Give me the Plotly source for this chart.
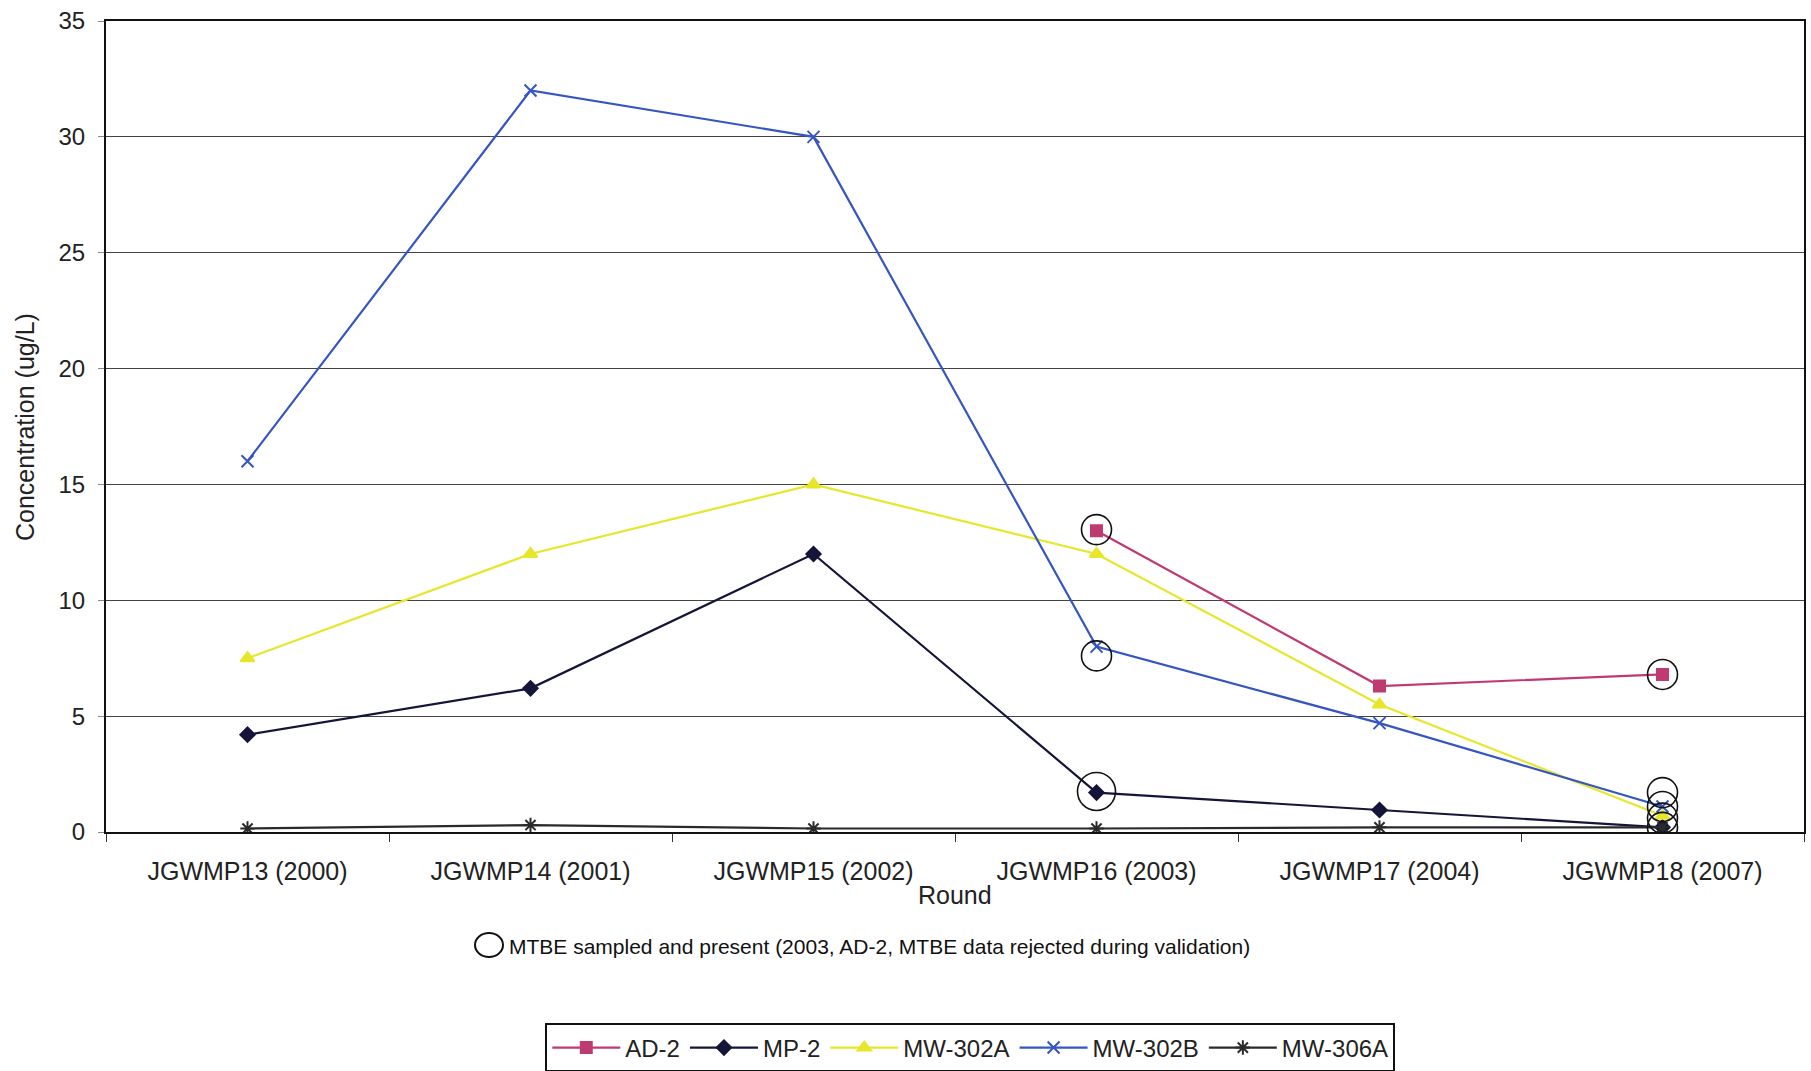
import plotly.graph_objects as go

rounds = ["JGWMP13 (2000)", "JGWMP14 (2001)", "JGWMP15 (2002)",
          "JGWMP16 (2003)", "JGWMP17 (2004)", "JGWMP18 (2007)"]

ad2 = [None, None, None, 13.0, 6.3, 6.8]
mp2 = [4.2, 6.2, 12.0, 1.7, 0.95, 0.2]
mw302a = [7.5, 12.0, 15.0, 12.0, 5.5, 0.7]
mw302b = [16.0, 32.0, 30.0, 8.0, 4.7, 1.1]
mw306a = [0.15, 0.3, 0.15, 0.15, 0.2, 0.2]

# MTBE circles (sampled and present)
circle_x = ["JGWMP16 (2003)", "JGWMP16 (2003)", "JGWMP18 (2007)",
            "JGWMP18 (2007)", "JGWMP18 (2007)", "JGWMP18 (2007)", "JGWMP18 (2007)"]
circle_y = [13.05, 7.6, 6.8, 1.7, 1.1, 0.6, 0.2]
big_circle_x = ["JGWMP16 (2003)"]
big_circle_y = [1.75]

y_ticks = [0, 5, 10, 15, 20, 25, 30, 35]

FONT = "Liberation Sans, Arial, sans-serif"

fig = go.Figure()

series = [
    ("AD-2", ad2, "#C03A72", "square", 11),
    ("MP-2", mp2, "#15153A", "diamond", 11),
    ("MW-302A", mw302a, "#E6E62A", "triangle-up", 12),
    ("MW-302B", mw302b, "#3556C0", "x-thin-open", 12),
    ("MW-306A", mw306a, "#2A2A2A", "asterisk-open", 12),
]
for name, vals, col, sym, sz in series:
    fig.add_trace(go.Scatter(
        x=rounds, y=vals, name=name, mode="lines+markers",
        line=dict(color=col, width=2.2),
        marker=dict(symbol=sym, size=sz, color=col, line=dict(color=col, width=2)),
        connectgaps=False,
    ))

fig.add_trace(go.Scatter(
    x=circle_x, y=circle_y, mode="markers", showlegend=False, hoverinfo="skip",
    marker=dict(symbol="circle-open", size=30, color="#111111", line=dict(width=1.6)),
))
fig.add_trace(go.Scatter(
    x=big_circle_x, y=big_circle_y, mode="markers", showlegend=False, hoverinfo="skip",
    marker=dict(symbol="circle-open", size=38, color="#111111", line=dict(width=1.6)),
))

fig.update_layout(
    width=1811, height=1071,
    margin=dict(l=106, r=7, t=21, b=239, autoexpand=False),
    paper_bgcolor="white", plot_bgcolor="white",
    font=dict(family=FONT, size=24, color="#222222"),
    showlegend=True,
    legend=dict(
        orientation="h", x=0.509, y=-0.2663, xanchor="center", yanchor="middle",
        bordercolor="#111111", borderwidth=2, bgcolor="white",
        font=dict(size=24, family=FONT), itemwidth=68, tracegroupgap=0,
    ),
    xaxis=dict(
        type="category", categoryorder="array", categoryarray=rounds,
        range=[-0.5, 5.5], showgrid=False, zeroline=False, automargin=False,
        showline=True, linecolor="#111111", linewidth=2, mirror=True,
        ticks="outside", tickson="boundaries", ticklen=8, tickcolor="#333333",
        tickfont=dict(size=25, family=FONT), ticklabelstandoff=16,
    ),
    yaxis=dict(
        range=[0, 35], tickvals=y_ticks, showgrid=True, gridcolor="#444444", gridwidth=1,
        zeroline=False, showline=True, linecolor="#111111", linewidth=2, mirror=True,
        ticks="outside", ticklen=6, tickcolor="#888888", automargin=False,
        tickfont=dict(size=24, family=FONT), ticklabelstandoff=8,
        ticklabeloverflow="allow",
    ),
    annotations=[
        dict(text="Concentration (ug/L)", textangle=-90, xref="paper", yref="paper",
             x=-0.048, y=0.5, xanchor="center", yanchor="middle", showarrow=False,
             font=dict(size=25, family=FONT)),
        dict(text="Round", xref="paper", yref="paper", x=0.5, y=-0.0777,
             xanchor="center", yanchor="middle", showarrow=False,
             font=dict(size=25, family=FONT)),
        dict(text="MTBE sampled and present (2003, AD-2, MTBE data rejected during validation)",
             xref="paper", yref="paper", x=0.236, y=-0.1418, xanchor="left", yanchor="middle",
             showarrow=False, font=dict(size=21, family=FONT, color="#111111")),
    ],
    shapes=[
        dict(type="circle", xref="paper", yref="paper", xsizemode="pixel", ysizemode="pixel",
             xanchor=(489 - 106) / 1698, yanchor=(832 - 945) / 811,
             x0=-14, x1=14, y0=-12, y1=12, line=dict(color="#111111", width=2)),
    ],
)

# remove the browser's default 8px body margin so the figure fills the window exactly
fig.write_html("out.html", config={"displayModeBar": False},
               post_script="document.body.style.margin='0px';document.body.style.overflow='hidden';")
